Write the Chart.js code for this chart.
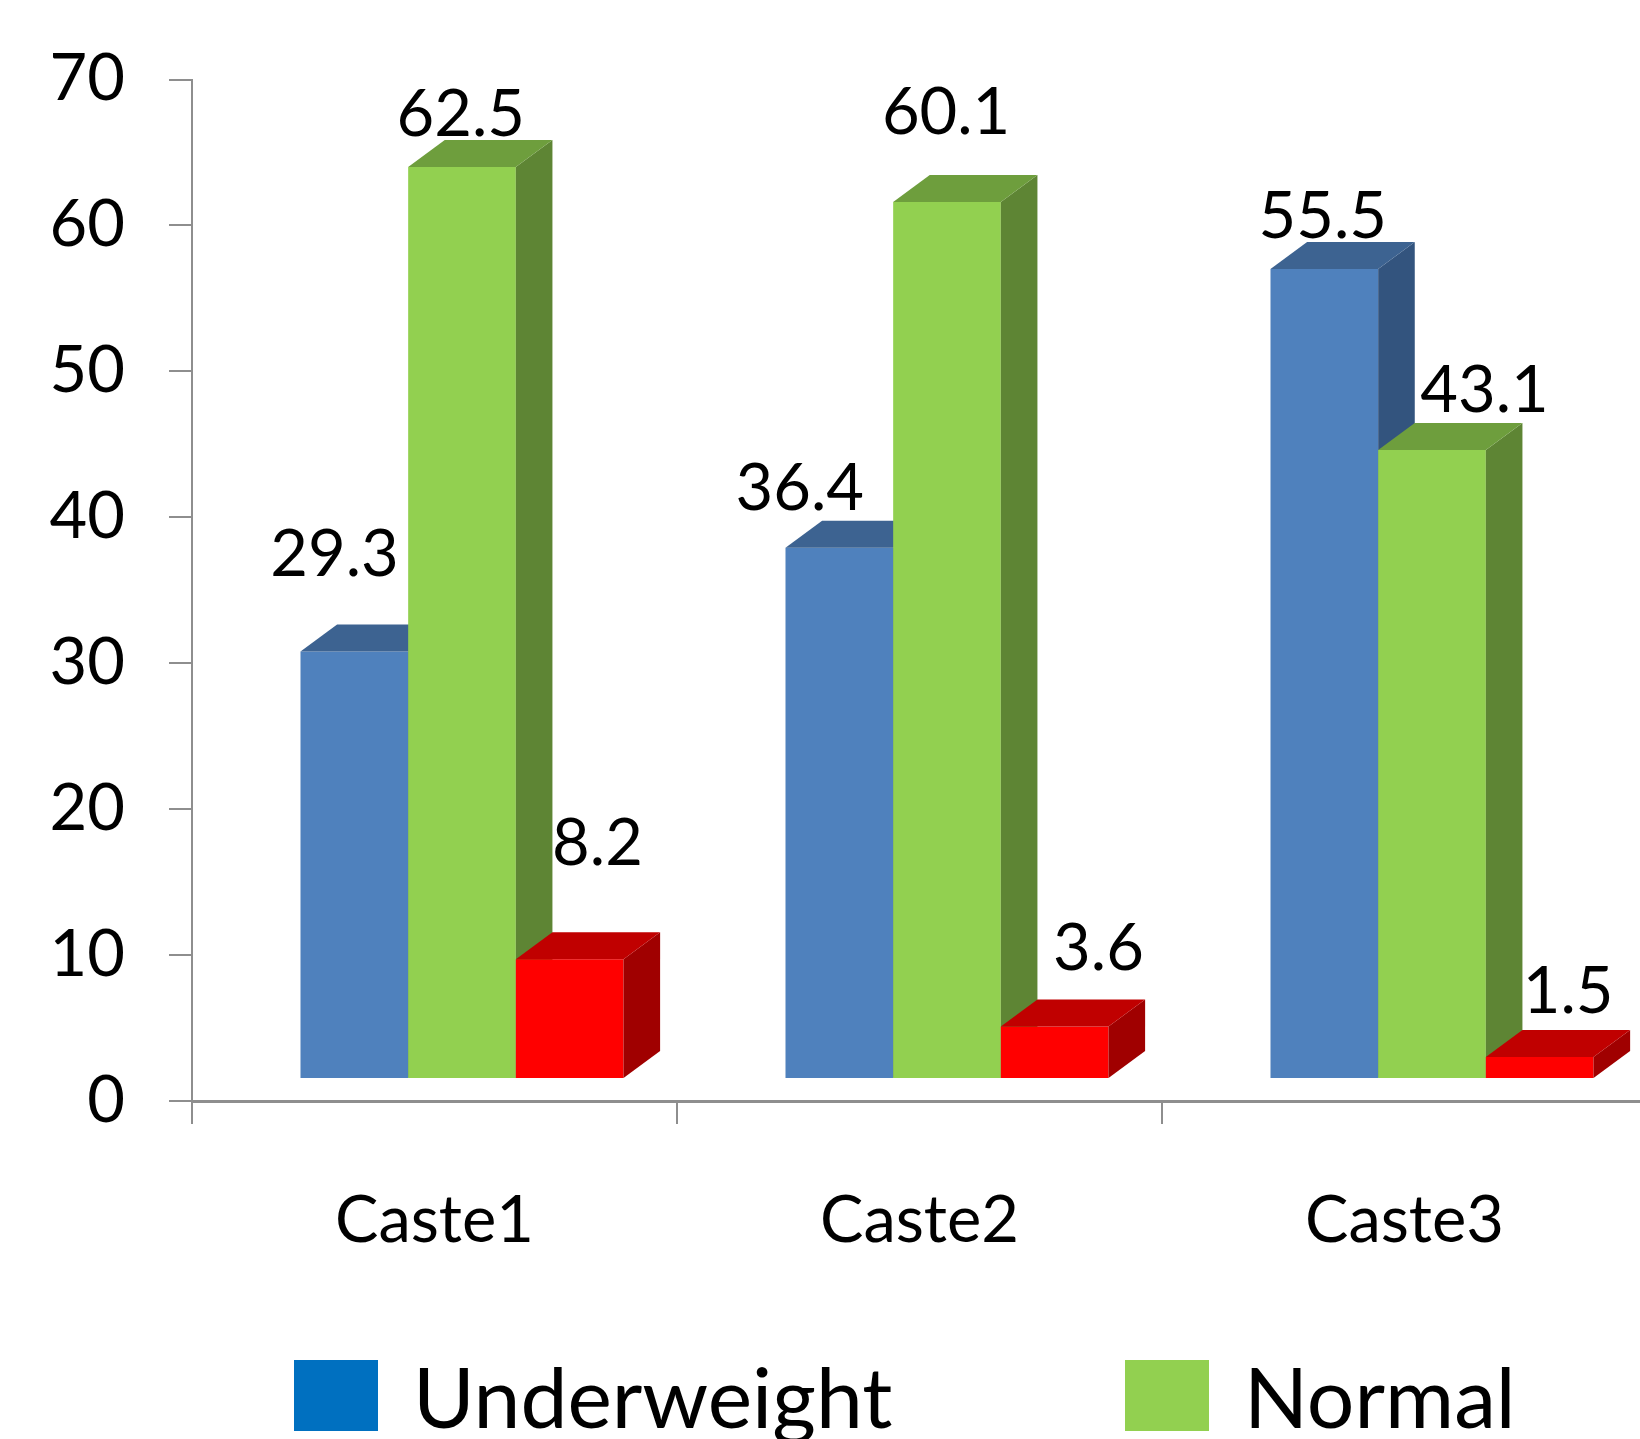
<!DOCTYPE html>
<html>
<head>
<meta charset="utf-8">
<title>Nutritional status by caste</title>
<script src="https://cdn.jsdelivr.net/npm/chart.js@4.4.1/dist/chart.umd.min.js"></script>
<style>
  html, body { margin: 0; padding: 0; background: #ffffff; }
  canvas { display: block; }
</style>
</head>
<body>
<canvas id="chart" width="1640" height="1439"></canvas>
<script>
// Categories and series values (percent)
const categories = ['Caste1', 'Caste2', 'Caste3'];
const seriesNames = ['Underweight', 'Normal', 'Overweight'];
const underweight = [29.3, 36.4, 55.5];
const normal = [62.5, 60.1, 43.1];
const overweight = [8.2, 3.6, 1.5];
const yTickValues = [0, 10, 20, 30, 40, 50, 60, 70];

// Box colours: front face, top face, side face
const frontColors = ['#4F81BD', '#92D050', '#FF0000'];
const topColors = ['#3D6391', '#6E9E3D', '#C00000'];
const sideColors = ['#33547E', '#5E8534', '#A00000'];
const legendColors = ['#0070C0', '#92D050', '#FF0000'];

// Layout of the pseudo-3D boxes (pixels)
const BOX = { shiftX: 27.5, lift: 22, depthX: 36.6, depthY: 27 };

// Value label nudges from the centre of each front face's top edge
const labelNudges = [
  [[-19.8, -96.2], [-39.5, -58.5], [-1.5, -51.6]],
  [[-1.2, -51.9], [-0.9, -88.9], [52.5, -59.1]],
  [[27.8, -115.7], [43.8, -77.1], [28.5, -64.9]]
];

const FONT = 'Lato, "DejaVu Sans", sans-serif';
const AXIS_GREY = '#8E8E8E';
const PLOT_RIGHT = 1647; // the category axis runs a little past the canvas edge
const PLOT_TOP = 79.5;

function quad(ctx, pts, color) {
  ctx.beginPath();
  ctx.moveTo(pts[0][0], pts[0][1]);
  for (let i = 1; i < pts.length; i++) ctx.lineTo(pts[i][0], pts[i][1]);
  ctx.closePath();
  ctx.fillStyle = color;
  ctx.fill();
}

// Stretch the category axis past the right edge and pin the value axis top
const adjustArea = {
  id: 'adjustArea',
  afterLayout(chart) {
    const xs = chart.scales.x;
    const extra = PLOT_RIGHT - xs.right;
    if (extra > 0) {
      xs.right += extra;
      xs.width += extra;
      chart.chartArea.right += extra;
      chart.chartArea.width += extra;
      xs.configure();
    }
    const ys = chart.scales.y;
    const up = ys.top - PLOT_TOP;
    if (up !== 0) {
      ys.top -= up;
      ys.height += up;
      chart.chartArea.top -= up;
      chart.chartArea.height += up;
      ys.configure();
    }
  }
};

// Draws every bar as a box with front, top and side faces
const boxBars = {
  id: 'boxBars',
  beforeDatasetsDraw(chart) {
    const ctx = chart.ctx;
    const metas = chart.data.datasets.map((d, i) => chart.getDatasetMeta(i));
    ctx.save();
    for (let c = 0; c < chart.data.labels.length; c++) {
      metas.forEach((meta, di) => {
        const bar = meta.data[c];
        const { x, y, base, width } = bar.getProps(['x', 'y', 'base', 'width'], true);
        const l = x - width / 2 + BOX.shiftX;
        const r = x + width / 2 + BOX.shiftX;
        const t = y - BOX.lift;
        const b = base - BOX.lift;
        const dx = BOX.depthX, dy = BOX.depthY;
        quad(ctx, [[l, t], [r, t], [r, b], [l, b]], frontColors[di]);
        quad(ctx, [[r, t], [r + dx, t - dy], [r + dx, b - dy], [r, b]], sideColors[di]);
        quad(ctx, [[l, t], [l + dx, t - dy], [r + dx, t - dy], [r, t]], topColors[di]);
      });
    }
    // value labels
    ctx.fillStyle = '#000000';
    ctx.font = '65px ' + FONT;
    ctx.textAlign = 'center';
    ctx.textBaseline = 'middle';
    metas.forEach((meta, di) => {
      meta.data.forEach((bar, c) => {
        const { x, y } = bar.getProps(['x', 'y'], true);
        const v = chart.data.datasets[di].data[c];
        const n = labelNudges[di][c];
        ctx.fillText(v.toFixed(1), x + BOX.shiftX + n[0], y - BOX.lift + n[1]);
      });
    });
    ctx.restore();
    return false;
  }
};

// Legend row drawn along the bottom edge
const bottomLegend = {
  id: 'bottomLegend',
  afterDraw(chart) {
    const ctx = chart.ctx;
    const startX = 294, pitch = 831, boxW = 84, boxH = 71, boxTop = 1360, gap = 35;
    ctx.save();
    ctx.font = '84px ' + FONT;
    ctx.textAlign = 'left';
    ctx.textBaseline = 'alphabetic';
    chart.data.datasets.forEach((ds, i) => {
      const bx = startX + i * pitch;
      if (bx >= chart.width) return;
      ctx.fillStyle = legendColors[i];
      ctx.fillRect(bx, boxTop, boxW, boxH);
      ctx.fillStyle = '#000000';
      ctx.fillText(ds.label, bx + boxW + gap, 1428);
    });
    ctx.restore();
  }
};

new Chart(document.getElementById('chart'), {
  type: 'bar',
  data: {
    labels: categories,
    datasets: [
      { label: seriesNames[0], data: underweight, backgroundColor: frontColors[0] },
      { label: seriesNames[1], data: normal, backgroundColor: frontColors[1] },
      { label: seriesNames[2], data: overweight, backgroundColor: frontColors[2] }
    ]
  },
  options: {
    responsive: false,
    devicePixelRatio: 1,
    animation: false,
    layout: { padding: { top: 80, right: 0, bottom: 188, left: 0 } },
    plugins: {
      legend: { display: false },
      tooltip: { enabled: false }
    },
    datasets: { bar: { categoryPercentage: 0.666, barPercentage: 1.0 } },
    scales: {
      x: {
        type: 'category',
        grid: { offset: true, drawOnChartArea: false, tickLength: 23, color: AXIS_GREY, lineWidth: 2 },
        border: { display: true, color: AXIS_GREY, width: 3 },
        ticks: { font: { family: FONT, size: 65 }, color: '#000000', padding: 58, maxRotation: 0 },
        afterFit(scale) { scale.height = 150; }
      },
      y: {
        min: 0,
        max: 70,
        afterBuildTicks(scale) { scale.ticks = yTickValues.map(v => ({ value: v })); },
        grid: { drawOnChartArea: false, tickLength: 23, color: AXIS_GREY, lineWidth: 2 },
        border: { display: true, color: AXIS_GREY, width: 2 },
        ticks: { font: { family: FONT, size: 65 }, color: '#000000', padding: 44 },
        afterFit(scale) { scale.width = 192; }
      }
    }
  },
  plugins: [adjustArea, boxBars, bottomLegend]
});
</script>
</body>
</html>
